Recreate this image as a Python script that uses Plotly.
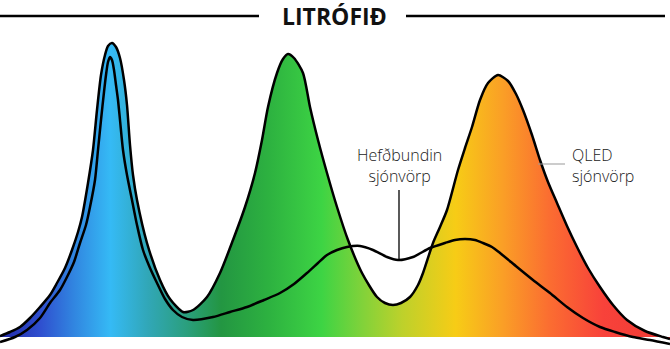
import plotly.graph_objects as go

# Spectrum position (left = short wavelength) and relative intensity
qled_x = [0, 10, 20, 30, 40, 50, 57, 65, 72, 78, 82, 88, 93, 97, 101, 105, 108, 112, 116, 120,
          124, 127, 130, 133, 137, 147, 160, 170, 183, 193, 207, 220, 233, 245, 255, 262, 268,
          277, 283, 288, 294, 303, 310, 318, 327, 337, 348, 362, 377, 385, 393, 401, 410, 418,
          423, 433, 440, 447, 458, 465, 472, 480, 488, 498, 508, 516, 523, 532,
          540, 548, 557, 567, 577, 588, 600, 613, 627, 645, 663, 670]
qled_h = [1, 5, 10, 19, 30, 42, 54, 69, 87, 105, 120, 154, 187, 227, 262, 282, 291, 294, 290, 279,
          257, 232, 192, 162, 137, 94, 57, 38, 25, 27, 40, 64, 97, 130, 164, 197, 230,
          264, 278, 283, 279, 264, 230, 197, 164, 130, 97, 64, 40, 34, 32, 34, 40, 52,
          64, 94, 110, 127, 167, 189, 210, 237, 254, 262, 256, 243, 227, 202,
          177, 155, 134, 111, 90, 69, 50, 32, 17, 6, 0, -2]

conv_x = [0, 15, 27, 40, 50, 60, 67, 74, 80, 86, 90, 95, 98, 101, 104, 106, 108, 110, 112, 114,
          116, 118, 120, 123, 127, 132, 137, 143, 150, 157, 165, 173, 182, 193, 213, 230, 247,
          264, 280, 294, 307, 318, 327, 337, 347, 360, 373, 387, 398, 413, 430,
          445, 455, 465, 475, 483, 492, 500, 517, 533, 550, 567, 583, 600, 615, 633, 650, 670]
conv_h = [-5, 0, 7, 19, 34, 47, 60, 75, 94, 112, 130, 157, 187, 217, 245, 262, 275, 280, 277, 267,
          252, 237, 217, 187, 162, 137, 112, 87, 69, 54, 38, 27, 20, 17, 20, 25, 30,
          37, 44, 53, 64, 74, 82, 87, 90, 91, 87, 80, 77, 80, 89,
          94, 97, 98, 97, 94, 90, 84, 70, 57, 44, 30, 19, 10, 5, 0, -3, -7]

title_text = "LITRÓFIÐ"
conv_label = "Hefðbundin<br>sjónvörp"
qled_label = "QLED<br>sjónvörp"

spectrum = [
    [0.00, "#2229a8"], [0.06, "#2f4fcf"], [0.11, "#3185e0"], [0.165, "#35baf5"],
    [0.22, "#31a7b8"], [0.28, "#2a9f7c"], [0.33, "#239642"], [0.40, "#2db140"],
    [0.48, "#3dd444"], [0.54, "#80d23a"], [0.60, "#bdd12b"], [0.68, "#f7cc16"],
    [0.75, "#fa9f26"], [0.82, "#fb6d31"], [0.90, "#f8423a"], [1.00, "#f03a35"],
]

fig = go.Figure()
fig.add_trace(go.Scatter(
    x=qled_x, y=qled_h, mode="lines", fill="tozeroy",
    fillgradient=dict(type="horizontal", colorscale=spectrum, start=0, stop=670),
    line=dict(color="black", width=2.5, shape="spline", smoothing=0.7),
    hoverinfo="skip", showlegend=False,
))
fig.add_trace(go.Scatter(
    x=conv_x, y=conv_h, mode="lines",
    line=dict(color="black", width=2.5, shape="spline", smoothing=0.7),
    hoverinfo="skip", showlegend=False,
))

# title with rules on each side
fig.add_shape(type="line", x0=0, x1=259, y0=321, y1=321, line=dict(color="black", width=2.5))
fig.add_shape(type="line", x0=406, x1=665, y0=321, y1=321, line=dict(color="black", width=2.5))
fig.add_annotation(x=334, y=321, text="<b>" + title_text + "</b>", showarrow=False,
                   font=dict(family="Open Sans", size=23, color="#111"), xanchor="center", yanchor="middle")

label_font = dict(family="Open Sans", size=16, color="#1a1a1a", weight=300)
# conventional TV label
fig.add_shape(type="line", x0=399, x1=399, y0=147, y1=78, line=dict(color="black", width=1.3))
fig.add_annotation(x=399, y=172, text=conv_label, showarrow=False, font=label_font,
                   xanchor="center", yanchor="middle", align="center", borderpad=0)
# QLED label
fig.add_shape(type="line", x0=538, x1=565, y0=173, y1=173, line=dict(color="#999", width=1))
fig.add_annotation(x=571, y=172, text=qled_label, showarrow=False, font=label_font,
                   xanchor="left", yanchor="middle", align="left", borderpad=0)

fig.update_layout(
    width=670, height=349, margin=dict(l=0, r=0, t=0, b=0),
    paper_bgcolor="white", plot_bgcolor="white",
    xaxis=dict(range=[0, 670], visible=False, fixedrange=True),
    yaxis=dict(range=[-12, 337], visible=False, fixedrange=True),
)
fig.write_html("out.html")
